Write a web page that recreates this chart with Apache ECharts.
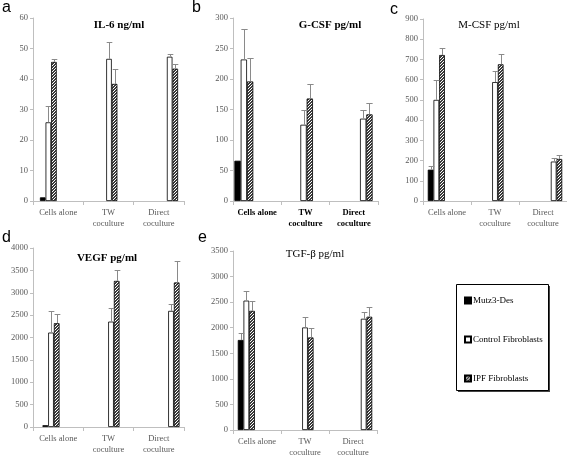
<!DOCTYPE html>
<html><head><meta charset="utf-8">
<script src="https://cdn.jsdelivr.net/npm/echarts@6/dist/echarts.min.js"></script>
<style>html,body{margin:0;padding:0;background:#fff}#c{width:567px;height:455px}</style>
</head><body><div id="c"></div>
<script>
// ---- data ----
const categories = ['Cells alone', 'TW\ncoculture', 'Direct\ncoculture'];
const seriesNames = ['Mutz3-Des', 'Control Fibroblasts', 'IPF Fibroblasts'];

const il6Mutz = [1.2, null, null];
const il6MutzErr = [null, null, null];
const il6Control = [25.8, 46.6, 47.3];
const il6ControlErr = [5.2, 5.4, 1.0];
const il6Ipf = [45.6, 38.4, 43.4];
const il6IpfErr = [0.8, 4.9, 1.6];

const gcsfMutz = [66, null, null];
const gcsfMutzErr = [null, null, null];
const gcsfControl = [232, 125, 135];
const gcsfControlErr = [50, 25, 15];
const gcsfIpf = [196, 168, 142];
const gcsfIpfErr = [38, 24, 18];

const mcsfMutz = [155, null, null];
const mcsfMutzErr = [20, null, null];
const mcsfControl = [500, 588, 195];
const mcsfControlErr = [97, 57, 18];
const mcsfIpf = [722, 676, 208];
const mcsfIpfErr = [33, 50, 20];

const vegfMutz = [40, null, null];
const vegfMutzErr = [null, null, null];
const vegfControl = [2110, 2355, 2595];
const vegfControlErr = [485, 295, 155];
const vegfIpf = [2320, 3265, 3230];
const vegfIpfErr = [195, 240, 480];

const tgfMutz = [1760, null, null];
const tgfMutzErr = [130, null, null];
const tgfControl = [2530, 2005, 2175];
const tgfControlErr = [190, 195, 140];
const tgfIpf = [2330, 1810, 2215];
const tgfIpfErr = [195, 175, 195];

const yTicksA = [0, 60, 10];
const yTicksB = [0, 300, 50];
const yTicksC = [0, 900, 100];
const yTicksD = [0, 4000, 500];
const yTicksE = [0, 3500, 500];

// ---- styling / layout ----
const serif = "'Liberation Serif', 'DejaVu Serif', serif";
const sans = "'Liberation Sans', 'DejaVu Sans', sans-serif";
const axisGray = '#bfbfbf';
const labelGray = '#595959';

const hatch = document.createElement('canvas');
hatch.width = 3; hatch.height = 3;
(function () {
  const g = hatch.getContext('2d');
  g.fillStyle = '#ffffff'; g.fillRect(0, 0, 3, 3);
  g.fillStyle = '#3c3c3c';
  for (let x = 0; x < 3; x++) for (let y = 0; y < 3; y++) {
    if ((x + y) % 3 !== 0) g.fillRect(x, y, 1, 1);
  }
})();
const barStyles = [
  { color: '#000000', borderColor: '#000000', borderWidth: 0.8 },
  { color: '#ffffff', borderColor: '#000000', borderWidth: 0.8 },
  { color: { image: hatch, repeat: 'repeat' }, borderColor: '#000000', borderWidth: 0.8 }
];

const panels = [
  { letter: 'a', title: 'IL-6 ng/ml', titleBold: true, tx: 119, ty: 25, lx: 2, ly: 0,
    axis: { left: 33, top: 18, width: 151, height: 183 },
    bars: { left: 18, width: 182 }, bw: 5.6, y: yTicksA, xBold: false, errColor: '#8a8a8a',
    vals: [il6Mutz, il6Control, il6Ipf], errs: [il6MutzErr, il6ControlErr, il6IpfErr] },
  { letter: 'b', title: 'G-CSF pg/ml', titleBold: true, tx: 330, ty: 25, lx: 192, ly: 0,
    axis: { left: 233, top: 18, width: 145, height: 183 },
    bars: { left: 214, width: 179 }, bw: 6.3, y: yTicksB, xBold: true, errColor: '#8a8a8a',
    vals: [gcsfMutz, gcsfControl, gcsfIpf], errs: [gcsfMutzErr, gcsfControlErr, gcsfIpfErr] },
  { letter: 'c', title: 'M-CSF pg/ml', titleBold: false, tx: 489, ty: 25, lx: 390, ly: 2,
    axis: { left: 423, top: 19, width: 144, height: 182 },
    bars: { left: 407, width: 176 }, bw: 5.7, y: yTicksC, xBold: false, errColor: '#8a8a8a',
    vals: [mcsfMutz, mcsfControl, mcsfIpf], errs: [mcsfMutzErr, mcsfControlErr, mcsfIpfErr] },
  { letter: 'd', title: 'VEGF pg/ml', titleBold: true, tx: 107, ty: 258, lx: 2, ly: 230,
    axis: { left: 33, top: 248, width: 151, height: 179 },
    bars: { left: 21, width: 180 }, bw: 5.7, y: yTicksD, xBold: false, errColor: '#8a8a8a',
    vals: [vegfMutz, vegfControl, vegfIpf], errs: [vegfMutzErr, vegfControlErr, vegfIpfErr] },
  { letter: 'e', title: 'TGF-\u03b2 pg/ml', titleBold: false, tx: 315, ty: 254, lx: 198, ly: 230,
    axis: { left: 233, top: 251, width: 144, height: 179 },
    bars: { left: 217, width: 176 }, bw: 5.7, y: yTicksE, xBold: false, errColor: '#8a8a8a',
    vals: [tgfMutz, tgfControl, tgfIpf], errs: [tgfMutzErr, tgfControlErr, tgfIpfErr] }
];

function errRender(offset, w, color) {
  return function (params, api) {
    const c = api.value(0), v = api.value(1), e = api.value(2);
    const p0 = api.coord([c, v]);
    const p1 = api.coord([c, v + e]);
    const x = Math.round(p0[0] + offset) + 0.5;
    const yt = Math.round(p1[1]) + 0.5;
    return { type: 'group', children: [
      { type: 'line', shape: { x1: x, y1: p0[1], x2: x, y2: yt }, style: { stroke: color, lineWidth: 1 } },
      { type: 'line', shape: { x1: x - w / 2, y1: yt, x2: x + w / 2, y2: yt }, style: { stroke: color, lineWidth: 1 } }
    ] };
  };
}

const grid = [], xAxis = [], yAxis = [], series = [], graphic = [];
panels.forEach((p, i) => {
  const ga = 2 * i, gb = 2 * i + 1;
  grid.push({ left: p.axis.left, top: p.axis.top, width: p.axis.width, height: p.axis.height, outerBoundsMode: 'none', containLabel: false });
  grid.push({ left: p.bars.left, top: p.axis.top, width: p.bars.width, height: p.axis.height, outerBoundsMode: 'none', containLabel: false });
  xAxis.push({
    type: 'category', gridIndex: ga, data: categories,
    axisLine: { show: true, lineStyle: { color: axisGray, width: 1 } },
    axisTick: { show: true, length: 4, lineStyle: { color: axisGray } },
    axisLabel: { interval: 0, margin: 6, fontFamily: serif, fontSize: 8.5, lineHeight: 11,
      color: p.xBold ? '#000' : labelGray, fontWeight: p.xBold ? 'bold' : 'normal' }
  });
  xAxis.push({ type: 'category', gridIndex: gb, data: categories, show: false });
  yAxis.push({
    type: 'value', gridIndex: ga, min: p.y[0], max: p.y[1], interval: p.y[2],
    splitLine: { show: false },
    axisLine: { show: true, lineStyle: { color: axisGray, width: 1 } },
    axisTick: { show: true, length: 3, lineStyle: { color: axisGray } },
    axisLabel: { margin: 5, fontFamily: serif, fontSize: 8.5, color: labelGray,
      formatter: (v) => String(v) }
  });
  yAxis.push({ type: 'value', gridIndex: gb, min: p.y[0], max: p.y[1], show: false });

  p.vals.forEach((arr, s) => {
    series.push({
      type: 'bar', name: seriesNames[s], xAxisIndex: gb, yAxisIndex: gb,
      data: arr, barWidth: p.bw, barGap: '0%', itemStyle: barStyles[s],
      silent: true, animation: false
    });
  });
  p.errs.forEach((arr, s) => {
    const d = [];
    arr.forEach((e, k) => { if (e != null && p.vals[s][k] != null) d.push([k, p.vals[s][k], e]); });
    if (!d.length) return;
    series.push({
      type: 'custom', xAxisIndex: gb, yAxisIndex: gb, data: d,
      encode: { x: 0, y: 1 }, renderItem: errRender((s - 1) * p.bw, p.bw, p.errColor),
      silent: true, animation: false, z: 3
    });
  });

  graphic.push({ type: 'text', left: p.lx, top: p.ly,
    style: { text: p.letter, font: '16px ' + sans, fill: '#000' } });
  graphic.push({ type: 'text', x: p.tx, y: p.ty,
    style: { text: p.title, font: (p.titleBold ? 'bold ' : '') + '11px ' + serif, fill: '#000',
      textAlign: 'center', textVerticalAlign: 'middle' } });
});

graphic.push({ type: 'rect', shape: { x: 458, y: 286, width: 92, height: 106 },
  style: { fill: '#444', stroke: null }, z: -2 });
graphic.push({ type: 'rect', shape: { x: 456.5, y: 284.5, width: 92, height: 106 },
  style: { fill: '#fff', stroke: '#000', lineWidth: 1 }, z: -1 });

const chart = echarts.init(document.getElementById('c'), null, { renderer: 'canvas' });
chart.setOption({
  animation: false,
  backgroundColor: '#fff',
  grid, xAxis, yAxis, series, graphic,
  legend: {
    data: seriesNames, orient: 'vertical', left: 459, top: 291,
    itemWidth: 6, itemHeight: 6, itemGap: 30, icon: 'rect',
    selectedMode: false,
    textStyle: { fontFamily: serif, fontSize: 9, color: '#000', padding: [0, 0, 0, -3] }
  }
});
</script></body></html>
